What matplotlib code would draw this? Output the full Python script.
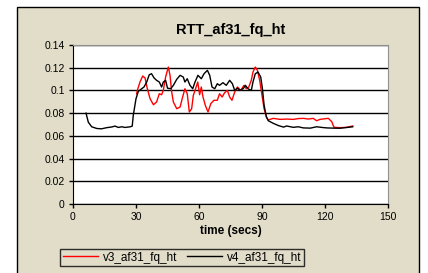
import matplotlib
matplotlib.use("Agg")
import matplotlib.pyplot as plt
from matplotlib.patches import Rectangle
import numpy as np

plt.rcParams["font.family"] = ["Liberation Sans", "DejaVu Sans"]

title = "RTT_af31_fq_ht"
x_label = "time (secs)"
x_ticks = [0, 30, 60, 90, 120, 150]
y_ticks = [0, 0.02, 0.04, 0.06, 0.08, 0.1, 0.12, 0.14]
y_tick_labels = ["0", "0.02", "0.04", "0.06", "0.08", "0.1", "0.12", "0.14"]

# v3 (red)
v3_t = [30.3, 30.6, 31.9, 33.2, 34.3, 35.4, 36.7, 38.3, 39.8, 41.1, 42.2, 43.0,
        44.1, 45.4, 46.2, 47.0, 47.8, 49.4, 51.0, 52.2, 53.3, 54.4, 55.4, 56.5,
        57.3, 58.1, 59.4, 60.3, 61.1, 61.9, 63.0, 64.3, 65.6, 67.1, 68.7, 69.8,
        71.0, 72.2, 73.5, 74.6, 75.7, 77.0, 78.3, 79.9, 81.4, 82.5, 83.7, 84.9,
        85.7, 86.8, 87.8, 88.9, 90.0, 91.0, 92.1, 93.0, 95.4, 98.6, 101.7,
        104.9, 107.3, 109.7, 112.0, 114.4, 116.0, 117.6, 119.6, 121.6, 123.2,
        124.3, 127.1, 130.3, 133.2]
v3_rtt = [0.097, 0.0998, 0.1074, 0.1127, 0.111, 0.1015, 0.0927, 0.0874, 0.0898,
          0.0971, 0.0962, 0.100, 0.1118, 0.1206, 0.1133, 0.0986, 0.0898, 0.0839,
          0.0854, 0.0942, 0.1015, 0.0971, 0.081, 0.0839, 0.0957, 0.100, 0.1074,
          0.0962, 0.103, 0.0942, 0.0869, 0.081, 0.0883, 0.0913, 0.0913, 0.0971,
          0.0942, 0.098, 0.100, 0.0942, 0.0913, 0.0986, 0.103, 0.100, 0.1045,
          0.1015, 0.103, 0.1089, 0.1162, 0.1206, 0.1177, 0.1089, 0.0957, 0.0839,
          0.0766, 0.0740, 0.0754, 0.0745, 0.0748, 0.0745, 0.0752, 0.0754,
          0.0748, 0.0754, 0.0733, 0.0745, 0.0750, 0.0754, 0.0725, 0.0675,
          0.0672, 0.0675, 0.0687]

# v4 (black)
v4_t = [6.2, 7.3, 8.9, 11.3, 13.6, 16.0, 18.4, 20.0, 21.6, 23.2, 24.8, 27.3,
        28.2, 28.7, 30.0, 31.1, 32.7, 33.8, 35.1, 36.3, 37.4, 38.6, 39.8, 41.1,
        42.2, 43.0, 44.1, 45.0, 46.5, 47.8, 49.4, 51.0, 52.5, 53.3, 54.4, 55.7,
        57.0, 58.1, 59.5, 61.1, 62.4, 64.0, 65.1, 66.2, 67.5, 68.7, 69.8, 71.4,
        73.0, 74.6, 75.9, 77.0, 78.3, 79.4, 81.0, 82.1, 83.3, 84.9, 85.7, 86.8,
        88.1, 89.4, 90.2, 91.0, 92.1, 93.0, 95.4, 97.9, 100.3, 101.7, 104.9,
        107.3, 109.7, 113.0, 116.0, 118.6, 120.8, 124.0, 127.1, 130.5, 133.2]
v4_rtt = [0.080, 0.072, 0.0680, 0.0665, 0.0662, 0.0672, 0.0678, 0.0686,
          0.0674, 0.0680, 0.0674, 0.0680, 0.0686, 0.078, 0.0927, 0.0992, 0.1015,
          0.103, 0.1074, 0.1138, 0.1147, 0.111, 0.1089, 0.1074, 0.103, 0.1074,
          0.1089, 0.102, 0.1015, 0.1045, 0.1098, 0.1133, 0.1118, 0.1074, 0.1103,
          0.1045, 0.1015, 0.1074, 0.1133, 0.1103, 0.1147, 0.1177, 0.1133, 0.103,
          0.1015, 0.1059, 0.1045, 0.1068, 0.1045, 0.1089, 0.1059, 0.100, 0.102,
          0.100, 0.1015, 0.1045, 0.1015, 0.100, 0.1074, 0.1147, 0.1162, 0.1118,
          0.1015, 0.0869, 0.0766, 0.0733, 0.071, 0.069, 0.0677, 0.0687, 0.0675,
          0.0680, 0.067, 0.0668, 0.068, 0.0674, 0.067, 0.0668, 0.0667, 0.0674,
          0.068]

bg = "#e1ddc9"

fig = plt.figure(figsize=(4.28, 2.73), dpi=100)
fig.patch.set_facecolor("white")
frame = Rectangle((17 / 428, -0.05), 402 / 428, 1.05 - 7 / 273,
                  transform=fig.transFigure, facecolor=bg,
                  edgecolor="black", linewidth=1.0, zorder=-10)
fig.add_artist(frame)

ax = fig.add_axes([73 / 428, 1 - 204 / 273, 315 / 428, 159 / 273])
ax.set_zorder(1)
ax.set_facecolor("white")

ax.plot(v3_t, v3_rtt, color="#ff0000", lw=1.0, label="v3_af31_fq_ht", zorder=3)
ax.plot(v4_t, v4_rtt, color="black", lw=1.0, label="v4_af31_fq_ht", zorder=4)

ax.set_xlim(0, 150)
ax.set_ylim(0, 0.14)
ax.set_xticks(x_ticks)
ax.set_yticks(y_ticks)
ax.set_yticklabels(y_tick_labels)
ax.yaxis.grid(True, color="black", lw=1.0)
ax.set_axisbelow(True)
ax.tick_params(direction="out", length=3, width=1, labelsize=7.5, pad=3)

for s in ["top", "right"]:
    ax.spines[s].set_color("#909090")
for s in ["left", "bottom"]:
    ax.spines[s].set_color("black")

ax.set_title(title, fontsize=10.5, fontweight="bold", pad=8)
ax.set_xlabel(x_label, fontsize=8.5, fontweight="bold", labelpad=2)

leg = fig.legend(loc="center", bbox_to_anchor=(182 / 428, 1 - 257.5 / 273),
                 ncol=2, fontsize=8.5, frameon=True, fancybox=False,
                 handlelength=3.0, handletextpad=0.4, columnspacing=0.8,
                 borderpad=0.25)
leg.get_frame().set_edgecolor("black")
leg.get_frame().set_facecolor(bg)
leg.get_frame().set_linewidth(1.0)
leg.set_zorder(5)

fig.savefig("out.png", dpi=100, facecolor=fig.get_facecolor())
